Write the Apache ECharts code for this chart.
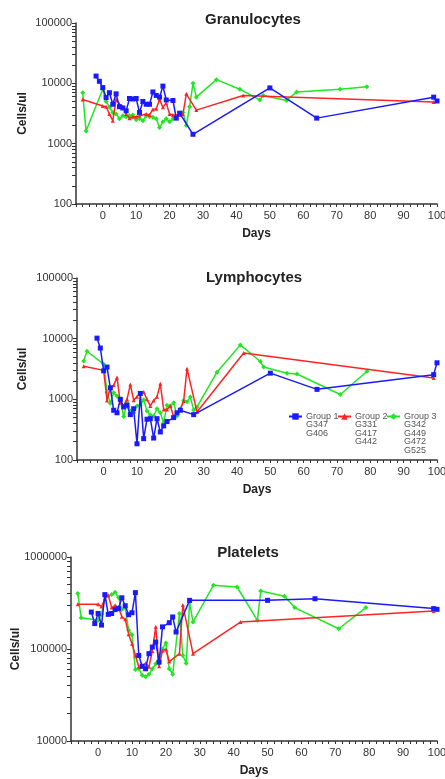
<!DOCTYPE html>
<html>
<head>
<meta charset="utf-8">
<script src="https://cdn.jsdelivr.net/npm/echarts@6/dist/echarts.min.js"></script>
<style>
html,body{margin:0;padding:0;background:#fff;}
#chart{width:445px;height:779px;}
</style>
</head>
<body>
<div id="chart"></div>
<script>
// ---------- DATA ----------
const panelTitles = ['Granulocytes', 'Lymphocytes', 'Platelets'];
const groupNames = ['Group 1', 'Group 2', 'Group 3'];
const groupIds = ['G347\nG406', 'G331\nG417\nG442', 'G342\nG449\nG472\nG525'];
const xLabelTicks = [0, 10, 20, 30, 40, 50, 60, 70, 80, 90, 100];

const granG1Days = [-2,-1,0,1,2,3,4,5,6,7,8,9,10,11,12,13,14,15,16,17,18,19,21,22,23,27,50,64,99,100];
const granG1Vals = [13200,10800,8500,5800,7000,4500,6700,4100,3900,3500,5600,5500,5600,3300,5000,4500,4500,7200,6300,5900,9000,5300,5200,2650,3200,1430,8400,2650,5900,5100];
const granG2Days = [-6,0,1,2,3,4,5,6,7,8,9,10,11,13,14,15,16,17,18,19,20,21,23,24,25,28,42,99];
const granG2Vals = [5400,4200,4100,3100,2400,5400,4500,4100,3100,2650,2800,2800,2900,3100,3000,3700,3800,5400,4000,4700,3100,3000,3000,3100,6700,3600,6300,4900];
const granG3Days = [-6,-5,0,1,2,3,4,5,6,7,8,9,10,11,12,13,14,15,16,17,18,19,20,21,24,25,26,27,28,34,41,47,48,55,58,71,79];
const granG3Vals = [7000,1620,8000,5000,4000,3300,3100,2600,2900,2800,2900,3000,2500,2600,2400,2900,2800,2750,2600,1850,2300,2600,2300,2600,3300,2000,4100,10000,5900,11500,8000,5300,6300,5200,7200,8000,8800];

const lymG1Days = [-2,-1,0,1,2,3,4,5,6,7,8,9,10,11,12,13,14,15,16,17,18,19,21,22,23,27,50,64,99,100];
const lymG1Vals = [10200,7000,2950,3400,1550,660,600,1000,750,800,560,700,185,1250,225,470,480,230,480,290,365,430,500,600,660,560,2700,1460,2550,4000];
const lymG2Days = [-6,0,1,2,3,4,5,6,7,8,9,10,11,12,13,14,15,16,17,18,19,20,21,23,24,25,28,42,99];
const lymG2Vals = [3500,3000,960,1550,1700,2300,880,780,1000,1750,970,1100,1280,1320,1000,780,960,1100,1800,680,680,780,520,680,940,3200,620,5800,2250];
const lymG3Days = [-6,-5,0,1,2,3,4,5,6,7,8,9,10,11,12,13,14,15,16,17,18,19,20,21,22,23,24,25,26,27,28,34,41,47,48,55,58,71,79];
const lymG3Vals = [4300,6200,3800,1300,860,1280,1130,940,520,900,640,600,780,800,980,640,550,530,700,600,410,800,780,880,530,700,960,910,1090,670,750,2800,7900,4200,3400,2700,2620,1200,2900];

const pltG1Days = [-2,-1,0,1,2,3,4,5,6,7,8,9,10,11,12,13,14,15,16,17,18,19,21,22,23,27,50,64,99,100];
const pltG1Vals = [252000,189000,243000,182000,390000,238000,243000,268000,275000,360000,295000,236000,248000,410000,85000,65000,61000,89000,105000,119000,72000,174000,193000,223000,153000,338000,338000,352000,275000,270000];
const pltG2Days = [-6,0,1,2,3,4,5,6,7,8,9,10,11,12,13,14,15,16,17,18,19,20,21,24,25,28,42,99];
const pltG2Vals = [306000,306000,290000,352000,383000,282000,298000,285000,224000,210000,145000,114000,85000,64000,64000,70000,64000,95000,174000,65000,96000,99000,73000,89000,300000,89000,196000,259000];
const pltG3Days = [-6,-5,0,1,2,4,5,6,7,8,9,10,11,12,13,14,15,16,17,18,19,20,21,22,24,25,26,27,28,34,41,47,48,55,58,71,79];
const pltG3Vals = [400000,219000,205000,238000,373000,390000,415000,362000,268000,280000,160000,143000,60000,61000,52000,50000,53000,61000,69000,82000,100000,116000,61000,53000,243000,85000,70000,324000,196000,492000,472000,205000,427000,374000,282000,166000,282000];

// ---------- BUILD ----------
const FONT = 'Liberation Sans, Arial, sans-serif';
const colors = ['#1a1aff', '#ff2424', '#22e622'];
const symbols = ['rect', 'triangle', 'diamond'];
const symbolSizes = [5, 4, 5];

const panels = [
  { series: [[granG1Days, granG1Vals], [granG2Days, granG2Vals], [granG3Days, granG3Vals]], yMin: 100, yMax: 100000, nameGap: 47 },
  { series: [[lymG1Days, lymG1Vals], [lymG2Days, lymG2Vals], [lymG3Days, lymG3Vals]], yMin: 100, yMax: 100000, nameGap: 48 },
  { series: [[pltG1Days, pltG1Vals], [pltG2Days, pltG2Vals], [pltG3Days, pltG3Vals]], yMin: 10000, yMax: 1000000, nameGap: 49 }
];

const grids = [
  { left: 76, right: 8, top: 23, height: 181, outerBoundsMode: 'none', containLabel: false },
  { left: 77, right: 8, top: 278, height: 182, outerBoundsMode: 'none', containLabel: false },
  { left: 71, right: 8, top: 557, height: 184, outerBoundsMode: 'none', containLabel: false }
];
const titlePos = [ {x: 248, y: 7}, {x: 249, y: 265}, {x: 243, y: 540} ];

const xMinorTicks = [];
for (let v = -8; v <= 100; v += 2) xMinorTicks.push(v);

function logTicks(min, max) {
  const out = [];
  for (let d = min; d < max; d *= 10) {
    for (let k = 1; k <= 9; k++) out.push(d * k);
  }
  out.push(max);
  return out;
}
function decades(min, max) {
  const out = [];
  for (let d = min; d <= max; d *= 10) out.push(d);
  return out;
}

const axisColor = '#333';
const xAxes = [], yAxes = [], series = [], titles = [];

panels.forEach((p, i) => {
  titles.push({
    text: panelTitles[i], left: titlePos[i].x, top: titlePos[i].y, textAlign: 'center',
    textStyle: { fontFamily: FONT, fontSize: 15, fontWeight: 'bold', color: '#222' }
  });
  xAxes.push({
    type: 'value', gridIndex: i, min: -8, max: 100,
    name: 'Days', nameLocation: 'middle', nameGap: 24, nameMoveOverlap: false,
    nameTextStyle: { fontFamily: FONT, fontSize: 12, fontWeight: 'bold', color: '#222' },
    axisLine: { show: true, onZero: false, lineStyle: { color: axisColor, width: 1.5 } },
    axisTick: { show: true, length: 3, customValues: xMinorTicks, lineStyle: { color: axisColor, width: 1 } },
    axisLabel: { customValues: xLabelTicks, fontFamily: FONT, fontSize: 11, color: '#333', margin: 6 },
    splitLine: { show: false }
  });
  yAxes.push({
    type: 'log', logBase: 10, gridIndex: i, min: p.yMin, max: p.yMax,
    name: 'Cells/ul', nameLocation: 'middle', nameGap: p.nameGap, nameMoveOverlap: false,
    nameTextStyle: { fontFamily: FONT, fontSize: 12, fontWeight: 'bold', color: '#222' },
    axisLine: { show: true, onZero: false, lineStyle: { color: axisColor, width: 1.5 } },
    axisTick: { show: true, length: 4, customValues: logTicks(p.yMin, p.yMax), lineStyle: { color: axisColor, width: 1 } },
    axisLabel: { customValues: decades(p.yMin, p.yMax), fontFamily: FONT, fontSize: 11, color: '#333', margin: 4,
      formatter: v => String(Math.round(v)) },
    splitLine: { show: false }
  });
  p.series.forEach((s, g) => {
    series.push({
      name: groupNames[g], type: 'line', xAxisIndex: i, yAxisIndex: i,
      data: s[0].map((d, k) => [d, s[1][k]]),
      symbol: symbols[g], symbolSize: symbolSizes[g], showAllSymbol: true,
      lineStyle: { color: colors[g], width: 1.5 },
      itemStyle: { color: colors[g] },
      z: 5 - g
    });
  });
});

const legendLeft = [288, 337, 386];
const legends = groupNames.map((n, g) => ({
  data: [n], left: legendLeft[g], top: 412, itemWidth: 13, itemHeight: 8, itemGap: 0,
  padding: 0,
  textStyle: { fontFamily: FONT, fontSize: 9, color: '#555', padding: [0, 0, 0, -1] }
}));

const graphics = groupIds.map((t, g) => ({
  type: 'text', left: legendLeft[g] + 18, top: 420.5,
  style: { text: t, font: '9px ' + FONT, fill: '#555', lineHeight: 8.4 }
}));

const chart = echarts.init(document.getElementById('chart'), null, { renderer: 'canvas' });
chart.setOption({
  animation: false,
  backgroundColor: '#fff',
  title: titles,
  legend: legends,
  grid: grids,
  xAxis: xAxes,
  yAxis: yAxes,
  series: series,
  graphic: graphics
});
</script>
</body>
</html>
